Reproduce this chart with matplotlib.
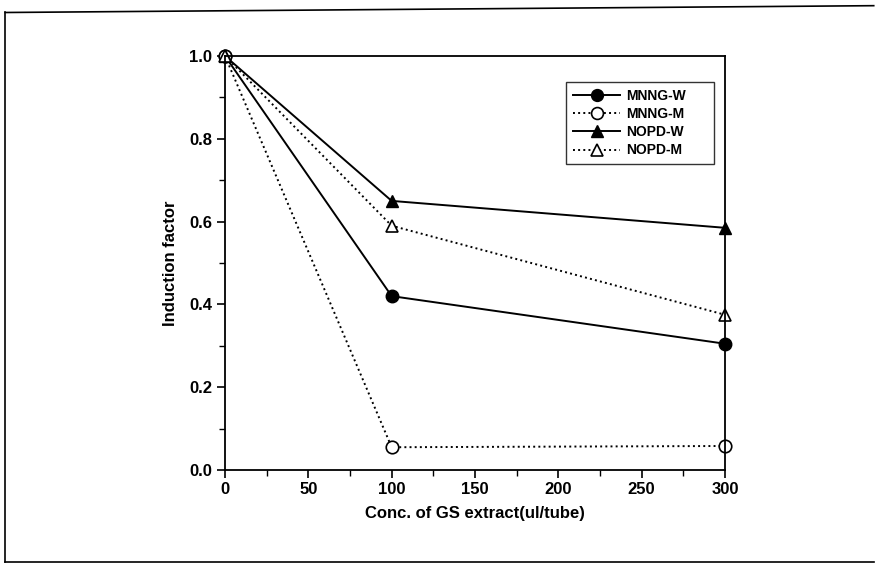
import matplotlib
matplotlib.use("Agg")
import matplotlib.pyplot as plt
from matplotlib.lines import Line2D
from matplotlib.ticker import MultipleLocator, FormatStrFormatter

plt.rcParams['font.family'] = ['Liberation Sans', 'DejaVu Sans']

# data
conc = [0, 100, 300]
mnng_w = [1.0, 0.42, 0.305]
mnng_m = [1.0, 0.055, 0.058]
nopd_w = [1.0, 0.65, 0.585]
nopd_m = [1.0, 0.59, 0.375]
series_names = ["MNNG-W", "MNNG-M", "NOPD-W", "NOPD-M"]

fig = plt.figure(figsize=(8.79, 5.68), dpi=100)
ax = fig.add_axes([225 / 879, 1 - 470 / 568, 500 / 879, 414 / 568])

# outer frame of the scanned page
for xs, ys in [([0.006, 0.994], [0.978, 0.99]), ([0.006, 0.006], [0.978, 0.01]),
               ([0.006, 0.994], [0.01, 0.01])]:
    fig.add_artist(Line2D(xs, ys, transform=fig.transFigure, color="black", lw=1.2))

ax.plot(conc, mnng_w, color="black", lw=1.4, ls="-", marker="o", ms=9,
        mfc="black", mec="black", clip_on=False, label=series_names[0])
ax.plot(conc, mnng_m, color="black", lw=1.4, ls=":", marker="o", ms=9,
        mfc="white", mec="black", mew=1.2, clip_on=False, label=series_names[1])
ax.plot(conc, nopd_w, color="black", lw=1.4, ls="-", marker="^", ms=9,
        mfc="black", mec="black", clip_on=False, label=series_names[2])
ax.plot(conc, nopd_m, color="black", lw=1.4, ls=":", marker="^", ms=9,
        mfc="white", mec="black", mew=1.2, clip_on=False, label=series_names[3])

ax.set_xlim(0, 300)
ax.set_ylim(0, 1.0)
ax.xaxis.set_major_locator(MultipleLocator(50))
ax.xaxis.set_minor_locator(MultipleLocator(25))
ax.yaxis.set_major_locator(MultipleLocator(0.2))
ax.yaxis.set_minor_locator(MultipleLocator(0.1))
ax.yaxis.set_major_formatter(FormatStrFormatter("%.1f"))
ax.tick_params(which="major", direction="out", length=6, width=1.2,
               labelsize=12, pad=3)
ax.tick_params(which="minor", direction="out", length=4, width=1.0)
for lab in ax.get_xticklabels() + ax.get_yticklabels():
    lab.set_fontweight("bold")
for sp in ax.spines.values():
    sp.set_linewidth(1.3)

ax.set_xlabel("Conc. of GS extract(ul/tube)", fontsize=12, fontweight="bold", labelpad=6)
ax.set_ylabel("Induction factor", fontsize=12, fontweight="bold", labelpad=8)

# legend box is wider than its contents in the original, so stretch it
leg = ax.legend(loc="upper left", bbox_to_anchor=(566 / 879, 1 - 162 / 568, 148 / 879, 80 / 568),
                bbox_transform=fig.transFigure, borderaxespad=0, mode="expand",
                prop={"weight": "bold", "size": 10},
                frameon=True, fancybox=False, edgecolor="black", handlelength=3.4,
                labelspacing=0.3, borderpad=0.5, handletextpad=0.4, markerscale=0.95)
leg.get_frame().set_linewidth(1.0)

fig.savefig("out.png", dpi=100)
